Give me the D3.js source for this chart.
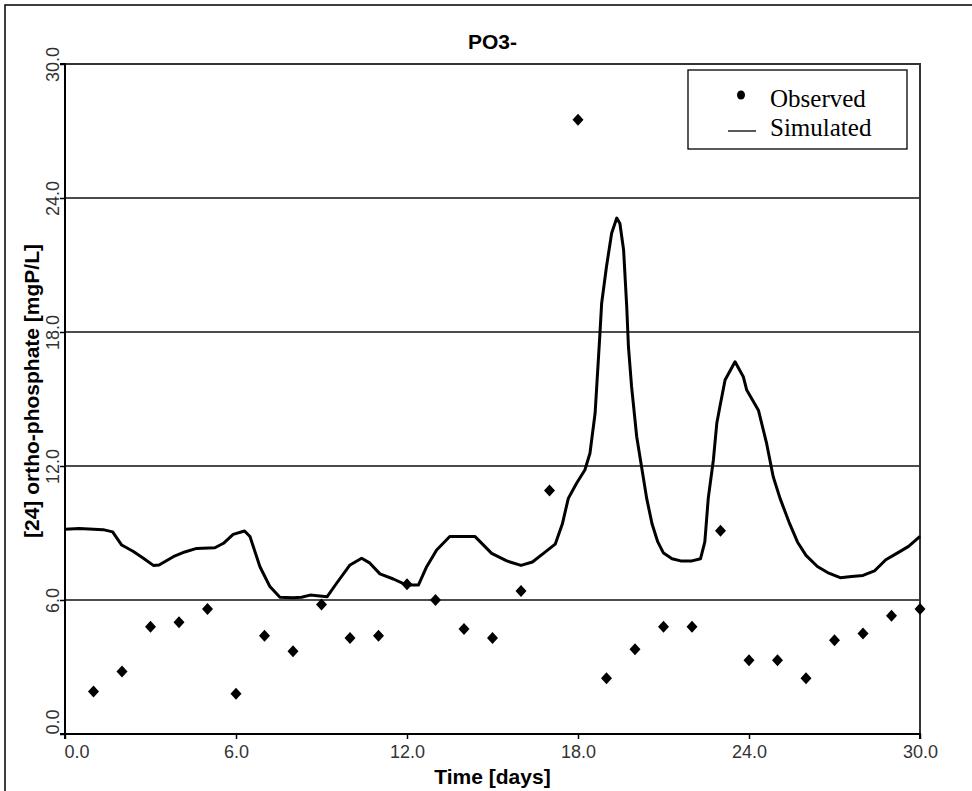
<!DOCTYPE html>
<html>
<head>
<meta charset="utf-8">
<script src="https://cdn.jsdelivr.net/npm/d3@7"></script>
<style>
  body { margin: 0; background: #fff; }
  svg { display: block; }
</style>
</head>
<body>
<svg id="canvas"></svg>
<script>
// observed samples (one per day)
let obsDays = [1, 2, 3, 4, 5, 6, 7, 8, 9, 10, 11, 12, 13, 14, 15,
  16, 17, 18, 19, 20, 21, 22, 23, 24, 25, 26, 27, 28, 29, 30];
let obsValues = [1.9, 2.8, 4.8, 5.0, 5.6, 1.8, 4.4, 3.7, 5.8, 4.3, 4.4, 6.7, 6.0, 4.7, 4.3,
  6.4, 10.9, 27.5, 2.5, 3.8, 4.8, 4.8, 9.1, 3.3, 3.3, 2.5, 4.2, 4.5, 5.3, 5.6];

// simulated curve
let simDays = [0, 0.5, 1.0, 1.34, 1.67, 1.99, 2.4, 2.75, 3.1, 3.3, 3.8, 4.2, 4.62, 5.26, 5.56,
  5.9, 6.3, 6.49, 6.84, 7.19, 7.54, 8.0, 8.3, 8.6, 9.2, 9.53, 10.0, 10.41, 10.7, 11.05,
  11.52, 11.99, 12.4, 12.69, 13.04, 13.5, 14.39, 14.97, 15.5, 16.0, 16.4, 16.8, 17.2, 17.45,
  17.66, 17.95, 18.24, 18.42, 18.6, 18.77, 18.83, 19.0, 19.18, 19.36, 19.47, 19.6, 19.71,
  19.77, 19.88, 20.06, 20.23, 20.41, 20.6, 20.8, 21.0, 21.3, 21.6, 22.0, 22.3, 22.45, 22.57,
  22.75, 22.87, 22.98, 23.16, 23.51, 23.8, 23.92, 24.33, 24.62, 24.85, 25.09, 25.4, 25.7,
  26.0, 26.4, 26.8, 27.2, 27.6, 28.0, 28.4, 28.8, 29.2, 29.6, 30.0];
let simValues = [9.17, 9.2, 9.17, 9.15, 9.05, 8.46, 8.17, 7.87, 7.55, 7.57, 7.94, 8.15, 8.31, 8.34, 8.54,
  8.94, 9.09, 8.84, 7.49, 6.6, 6.12, 6.1, 6.12, 6.22, 6.15, 6.75, 7.57, 7.87, 7.65, 7.17,
  6.94, 6.67, 6.67, 7.49, 8.24, 8.84, 8.84, 8.09, 7.75, 7.55, 7.7, 8.1, 8.5, 9.4,
  10.55, 11.23, 11.82, 12.57, 14.36, 17.94, 19.29, 20.93, 22.42, 23.1, 22.86, 21.67, 19.13,
  17.34, 15.55, 13.31, 11.97, 10.55, 9.4, 8.6, 8.1, 7.85, 7.75, 7.75, 7.85, 8.6, 10.55,
  12.27, 13.91, 14.66, 15.85, 16.67, 16.0, 15.4, 14.5, 13.0, 11.52, 10.55, 9.5, 8.6,
  8.0, 7.5, 7.2, 7.0, 7.05, 7.1, 7.3, 7.8, 8.1, 8.4, 8.85];

let xTicks = [0, 6, 12, 18, 24, 30];
let yTicks = [0, 6, 12, 18, 24, 30];
let legendLabels = ['Observed', 'Simulated'];

let canvas = d3.select('#canvas');

let drawChart = () => {
  const width = 972;
  const height = 791;
  const left = 65, right = 920, top = 64, bottom = 734;
  const sans = "'Liberation Sans', Arial, Helvetica, sans-serif";

  canvas.attr('width', width).attr('height', height);

  // outer frame
  canvas.append('rect')
    .attr('x', 5).attr('y', 5)
    .attr('width', 1000).attr('height', 1000)
    .attr('fill', 'none')
    .attr('stroke', '#000')
    .attr('stroke-width', 1.5);

  let x = d3.scaleLinear().domain([0, 30]).range([left, right]);
  let y = d3.scaleLinear().domain([0, 30]).range([bottom, top]);

  // grid lines
  canvas.selectAll('.grid')
    .data(yTicks.filter(t => t > 0 && t < 30))
    .enter()
    .append('line')
    .attr('class', 'grid')
    .attr('x1', left).attr('x2', right)
    .attr('y1', d => y(d)).attr('y2', d => y(d))
    .attr('stroke', '#111')
    .attr('stroke-width', 1.3);

  // top / right frame
  canvas.append('path')
    .attr('d', `M${left},${top}H${right}V${bottom}`)
    .attr('fill', 'none')
    .attr('stroke', '#333')
    .attr('stroke-width', 2);

  // axes
  let xAxis = d3.axisBottom(x).tickValues(xTicks).tickSize(5).tickFormat(d3.format('.1f'));
  let gx = canvas.append('g')
    .attr('transform', `translate(0,${bottom})`)
    .call(xAxis);
  gx.select('.domain').attr('stroke', '#000').attr('stroke-width', 2)
    .attr('d', `M${left},5V0H${right}V5`);
  gx.selectAll('.tick line').attr('stroke', '#000').attr('stroke-width', 1.5);
  gx.selectAll('.tick text')
    .attr('y', 24)
    .attr('dy', 0)
    .attr('font-family', sans)
    .attr('font-size', 18)
    .attr('fill', '#333')
    .attr('text-anchor', d => d === 0 ? 'start' : 'middle')
    .attr('x', d => d === 0 ? -1 : 0);

  let yAxis = d3.axisLeft(y).tickValues(yTicks).tickSize(5).tickFormat(d3.format('.1f'));
  let gy = canvas.append('g')
    .attr('transform', `translate(${left},0)`)
    .call(yAxis);
  gy.select('.domain').attr('stroke', '#000').attr('stroke-width', 2)
    .attr('d', `M-5,${top}H0V${bottom}H-5`);
  gy.selectAll('.tick line').attr('stroke', '#000').attr('stroke-width', 1.5);
  gy.selectAll('.tick text')
    .attr('x', 0).attr('y', 0).attr('dy', 0)
    .attr('transform', 'translate(-6,0) rotate(-90)')
    .attr('font-family', sans)
    .attr('font-size', 18)
    .attr('fill', '#333')
    .attr('text-anchor', d => d === 0 ? 'start' : 'middle');

  // simulated line
  let simData = simDays.map((d, i) => ({ t: d, v: simValues[i] }));
  let line = d3.line().x(d => x(d.t)).y(d => y(d.v));
  canvas.append('path')
    .datum(simData)
    .attr('d', line)
    .attr('fill', 'none')
    .attr('stroke', '#000')
    .attr('stroke-width', 3)
    .attr('stroke-linejoin', 'round');

  // observed diamonds
  let obsData = obsDays.map((d, i) => ({ t: d, v: obsValues[i] }));
  canvas.selectAll('.obs')
    .data(obsData)
    .enter()
    .append('path')
    .attr('class', 'obs')
    .attr('d', d => {
      let cx = x(d.t), cy = y(d.v);
      return `M${cx},${cy - 6}L${cx + 5.5},${cy}L${cx},${cy + 6}L${cx - 5.5},${cy}Z`;
    })
    .attr('fill', '#000');

  // title
  canvas.append('text')
    .attr('x', (left + right) / 2).attr('y', 49)
    .attr('text-anchor', 'middle')
    .attr('font-family', sans)
    .attr('font-weight', 'bold')
    .attr('font-size', 21)
    .text('PO3-');

  // axis titles
  canvas.append('text')
    .attr('x', (left + right) / 2).attr('y', 784)
    .attr('text-anchor', 'middle')
    .attr('font-family', sans)
    .attr('font-weight', 'bold')
    .attr('font-size', 21)
    .text('Time [days]');

  canvas.append('text')
    .attr('transform', `translate(39,${(top + bottom) / 2 - 8}) rotate(-90)`)
    .attr('text-anchor', 'middle')
    .attr('font-family', sans)
    .attr('font-weight', 'bold')
    .attr('font-size', 21)
    .text('[24] ortho-phosphate [mgP/L]');

  // legend
  let lg = canvas.append('g');
  lg.append('rect')
    .attr('x', 688).attr('y', 70)
    .attr('width', 219).attr('height', 79)
    .attr('fill', '#fff')
    .attr('stroke', '#000')
    .attr('stroke-width', 1.3);
  lg.append('ellipse')
    .attr('cx', 741).attr('cy', 95)
    .attr('rx', 4).attr('ry', 4.5)
    .attr('fill', '#000');
  lg.append('line')
    .attr('x1', 728).attr('x2', 756)
    .attr('y1', 131).attr('y2', 131)
    .attr('stroke', '#000')
    .attr('stroke-width', 1.3);
  lg.selectAll('.lg-text')
    .data(legendLabels)
    .enter()
    .append('text')
    .attr('class', 'lg-text')
    .attr('x', 770)
    .attr('y', (d, i) => 107 + i * 29)
    .attr('font-family', "'Liberation Serif', 'Times New Roman', serif")
    .attr('font-size', 25)
    .text(d => d);
};

drawChart();
</script>
</body>
</html>
